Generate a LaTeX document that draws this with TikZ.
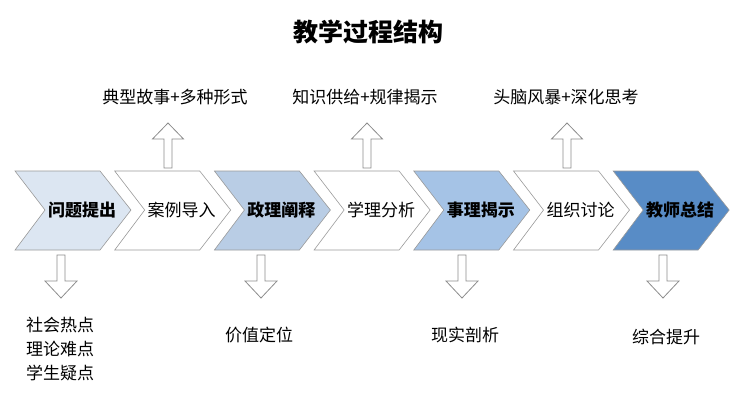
\documentclass[tikz,border=0pt]{standalone}
\usepackage{fontspec}
\setmainfont{Noto Sans CJK SC}
\usetikzlibrary{positioning}

\definecolor{chevgray}{HTML}{9A9A9A}
\definecolor{arrowgray}{HTML}{8C8C8C}
\definecolor{stepA}{HTML}{DCE6F2}
\definecolor{stepC}{HTML}{B9CDE5}
\definecolor{stepE}{HTML}{A5C3E6}
\definecolor{stepG}{HTML}{588CC6}

\tikzset{
  chev/.style={draw=chevgray, line width=0.6pt, line join=miter},
  steptext/.style={font=\fontsize{17}{17}\selectfont, inner sep=0pt},
  keytext/.style={font=\fontsize{17}{17}\selectfont\bfseries, inner sep=0pt},
  notetext/.style={font=\fontsize{17}{24}\selectfont, inner sep=0pt, align=center},
  blockarrow/.style={draw=arrowgray, fill=white, line width=0.8pt, line join=miter},
}

\begin{document}
\begin{tikzpicture}[x=1pt, y=-1pt]
  \useasboundingbox (0,0) rectangle (741,400);

  \node[font=\fontsize{25}{25}\selectfont\bfseries] (title) at (368,32) {教学过程结构};

  % chevrons
  \foreach \i/\col/\sty/\txt in {1/stepA/keytext/问题提出, 2/white/steptext/案例导入,
      3/stepC/keytext/政理阐释, 4/white/steptext/学理分析, 5/stepE/keytext/事理揭示,
      6/white/steptext/组织讨论, 7/stepG/keytext/教师总结}{
    \pgfmathsetmacro{\x}{15+(\i-1)*99.7}
    \draw[chev, fill=\col] (\x,171) -- ++(85,0) -- ++(31,39) -- ++(-31,40)
      -- ++(-85,0) -- ++(30,-40) -- cycle;
    \node[\sty] (p\i) at (\x+67,210) {\txt};
  }

  % labels above and below
  \node[notetext] (n2) at (175,97) {典型故事+多种形式};
  \node[notetext] (n4) at (365,97) {知识供给+规律揭示};
  \node[notetext] (n6) at (566,97) {头脑风暴+深化思考};
  \node[notetext] (n1) at (60,349) {社会热点\\理论难点\\学生疑点};
  \node[notetext] (n3) at (259,335) {价值定位};
  \node[notetext] (n5) at (465,335) {现实剖析};
  \node[notetext] (n7) at (666,337) {综合提升};

  % block arrows up
  \foreach \x in {168,367,567}{
    \draw[blockarrow] (\x-4,168) -- (\x-4,139) -- (\x-15.5,139) -- (\x,123)
      -- (\x+15.5,139) -- (\x+4,139) -- (\x+4,168) -- cycle;
  }
  % block arrows down
  \foreach \x in {61,261,462,663}{
    \draw[blockarrow] (\x-4,255) -- (\x-4,281) -- (\x-16,281) -- (\x,298)
      -- (\x+16,281) -- (\x+4,281) -- (\x+4,255) -- cycle;
  }
\end{tikzpicture}
\end{document}
